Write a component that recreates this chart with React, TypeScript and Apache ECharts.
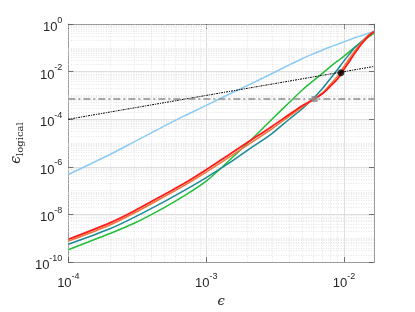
import React, { useEffect, useRef } from 'react';
import * as echarts from 'echarts';

// epsilon sample points (x)
const eps = [1e-4, 2e-4, 3e-4, 5e-4, 7e-4, 1e-3, 1.5e-3, 2e-3, 3e-3, 4e-3, 5e-3, 6e-3, 7e-3, 8e-3, 9e-3, 1e-2, 1.1e-2, 1.2e-2, 1.35e-2, 1.5e-2, 1.65e-2];

// series values (epsilon_logical)
const lightBlue = [4.79e-7, 3.31e-6, 1.12e-5, 5.25e-5, 1.41e-4, 3.8e-4, 1.2e-3, 2.63e-3, 8.32e-3, 1.91e-2, 3.55e-2, 5.62e-2, 8.13e-2, 0.11, 0.141, 0.178, 0.219, 0.263, 0.331, 0.407, 0.479];
const green = [3.31e-10, 1.58e-9, 4.27e-9, 2.0e-8, 6.31e-8, 2.51e-7, 2.09e-6, 1.0e-5, 1.0e-4, 5.01e-4, 1.74e-3, 4.17e-3, 8.71e-3, 1.66e-2, 2.82e-2, 4.47e-2, 7.08e-2, 0.107, 0.178, 0.282, 0.407];
const teal = [5.62e-10, 2.51e-9, 7.59e-9, 3.55e-8, 1.05e-7, 3.55e-7, 1.58e-6, 5.01e-6, 2.51e-5, 1.0e-4, 2.82e-4, 7.59e-4, 2.0e-3, 5.25e-3, 1.26e-2, 2.82e-2, 5.62e-2, 0.105, 0.191, 0.331, 0.501];
const orange = [7.59e-10, 3.63e-9, 1.15e-8, 5.75e-8, 1.7e-7, 6.03e-7, 2.75e-6, 8.32e-6, 3.98e-5, 1.32e-4, 3.31e-4, 6.76e-4, 1.32e-3, 3.02e-3, 6.61e-3, 1.66e-2, 3.72e-2, 7.59e-2, 0.174, 0.331, 0.49];
const red = [9.12e-10, 4.47e-9, 1.41e-8, 7.08e-8, 2.09e-7, 7.59e-7, 3.55e-6, 1.07e-5, 5.01e-5, 1.58e-4, 3.8e-4, 6.76e-4, 1.2e-3, 2.51e-3, 5.01e-3, 1.26e-2, 2.82e-2, 6.03e-2, 0.151, 0.302, 0.479];

// reference lines and markers
const identityLine = [[1e-4, 1e-4], [1.65e-2, 1.65e-2]];
const thresholdLevel = 7.1e-4;
const thresholdSpan = [1e-4, 1.65e-2];
const grayMarker = [6.12e-3, 7.1e-4];
const blackMarker = [9.5e-3, 8.9e-3];

// axis ranges
const xRange = [1e-4, 1.65e-2];
const yRange = [1e-10, 1];
const xDecades = [-4, -3];
const yDecades = [-10, -9, -8, -7, -6, -5, -4, -3, -2, -1];
const minorMultipliers = [2, 3, 4, 5, 6, 7, 8, 9];

const SANS = "'Liberation Sans', Arial, Helvetica, sans-serif";
const SERIF = "'DejaVu Serif', 'Liberation Serif', serif";

const powLabel = (v: number) => {
  const e = Math.log10(v);
  const r = Math.round(e);
  if (Math.abs(e - r) > 1e-6) return '';
  return `{b|10}{s|${r}}`;
};

const labelRich = {
  b: { fontSize: 13, fontFamily: SANS, color: '#262626', lineHeight: 18, verticalAlign: 'bottom' },
  s: { fontSize: 9, fontFamily: SANS, color: '#262626', lineHeight: 9, verticalAlign: 'top' },
};

export default function App() {
  const ref = useRef<HTMLDivElement>(null);
  useEffect(() => {
    if (!ref.current) return;
    const chart = echarts.init(ref.current, undefined, { renderer: 'svg' });

    const xMinor: number[] = [];
    xDecades.forEach((d) => minorMultipliers.forEach((m) => xMinor.push(m * Math.pow(10, d))));
    const yMinor: number[] = [];
    yDecades.forEach((d) => {
      if (d % 2 !== 0) yMinor.push(Math.pow(10, d));
      minorMultipliers.forEach((m) => yMinor.push(m * Math.pow(10, d)));
    });
    const minorGrid = [
      ...xMinor.map((v) => ({ coords: [[v, yRange[0]], [v, yRange[1]]] })),
      ...yMinor.map((v) => ({ coords: [[xRange[0], v], [xRange[1], v]] })),
    ];

    const curve = (name: string, vals: number[], color: string, width: number) => ({
      type: 'line',
      name,
      data: eps.map((x, i) => [x, vals[i]]),
      showSymbol: false,
      symbol: 'none',
      smooth: 0.3,
      lineStyle: { color, width },
      itemStyle: { color },
      emphasis: { disabled: true },
      z: 3,
    });

    const axisLineStyle = { color: '#8a8a8a', width: 0.8 };
    const tickStyle = { show: true, inside: true, length: 5, lineStyle: { color: '#555', width: 0.8 } };

    chart.setOption({
      animation: false,
      grid: { left: 58, right: 41, top: 24, bottom: 49, containLabel: false },
      xAxis: [
        {
          type: 'log',
          logBase: 10,
          min: xRange[0],
          max: xRange[1],
          position: 'bottom',
          axisLine: { show: true, lineStyle: axisLineStyle },
          axisTick: tickStyle,
          axisLabel: { formatter: powLabel, margin: 9, rich: labelRich, showMaxLabel: false },
          splitLine: { show: true, lineStyle: { color: '#d6d6d6', width: 0.8 } },
          name: 'ϵ',
          nameLocation: 'middle',
          nameGap: 30,
          nameTextStyle: { fontFamily: SERIF, fontSize: 13, fontStyle: 'italic', color: '#262626' },
        },
        {
          type: 'log',
          logBase: 10,
          min: xRange[0],
          max: xRange[1],
          position: 'top',
          axisLine: { show: true, lineStyle: axisLineStyle },
          axisTick: tickStyle,
          axisLabel: { show: false },
          splitLine: { show: false },
        },
      ],
      yAxis: [
        {
          type: 'log',
          logBase: 100,
          min: yRange[0],
          max: yRange[1],
          position: 'left',
          axisLine: { show: true, lineStyle: axisLineStyle },
          axisTick: tickStyle,
          axisLabel: { formatter: powLabel, margin: 6, rich: labelRich },
          splitLine: { show: true, lineStyle: { color: '#d6d6d6', width: 0.8 } },
          name: '{e|ϵ}{sub|logical}',
          nameLocation: 'middle',
          nameRotate: 90,
          nameGap: 41,
          nameTextStyle: {
            rich: {
              e: { fontFamily: SERIF, fontSize: 14, fontStyle: 'italic', color: '#262626', lineHeight: 16, verticalAlign: 'top' },
              sub: { fontFamily: SERIF, fontSize: 10, color: '#262626', lineHeight: 10, verticalAlign: 'bottom' },
            },
          },
        },
        {
          type: 'log',
          logBase: 100,
          min: yRange[0],
          max: yRange[1],
          position: 'right',
          axisLine: { show: true, lineStyle: axisLineStyle },
          axisTick: tickStyle,
          axisLabel: { show: false },
          splitLine: { show: false },
        },
      ],
      series: [
        {
          type: 'lines',
          coordinateSystem: 'cartesian2d',
          silent: true,
          z: 1,
          polyline: false,
          lineStyle: { color: '#dedede', type: [1, 1.5], width: 0.8, opacity: 1 },
          emphasis: { disabled: true },
          data: minorGrid,
        },
        curve('light blue', lightBlue, '#8ccbf3', 1.5),
        curve('green', green, '#22bf3a', 1.5),
        curve('teal', teal, '#1d8a96', 1.5),
        curve('orange', orange, '#ef7338', 1.5),
        curve('red', red, '#ff1a1a', 1.8),
        {
          type: 'line',
          data: identityLine,
          showSymbol: false,
          symbol: 'none',
          lineStyle: { color: '#000', width: 1, type: [2, 1, 1, 1] },
          z: 4,
        },
        {
          type: 'line',
          data: thresholdSpan.map((x) => [x, thresholdLevel]),
          showSymbol: false,
          symbol: 'none',
          lineStyle: { color: '#8c8c8c', width: 1.5, type: [7, 3, 2, 3] },
          z: 4,
        },
        {
          type: 'scatter',
          data: [grayMarker],
          symbol: 'rect',
          symbolSize: 6,
          itemStyle: { color: '#8a8a8a' },
          z: 5,
        },
        {
          type: 'scatter',
          data: [blackMarker],
          symbol: 'circle',
          symbolSize: 7,
          itemStyle: { color: '#000' },
          z: 5,
        },
      ],
    });
    return () => chart.dispose();
  }, []);
  return <div ref={ref} style={{ position: 'fixed', left: 0, top: 0, width: 415, height: 312 }} />;
}
